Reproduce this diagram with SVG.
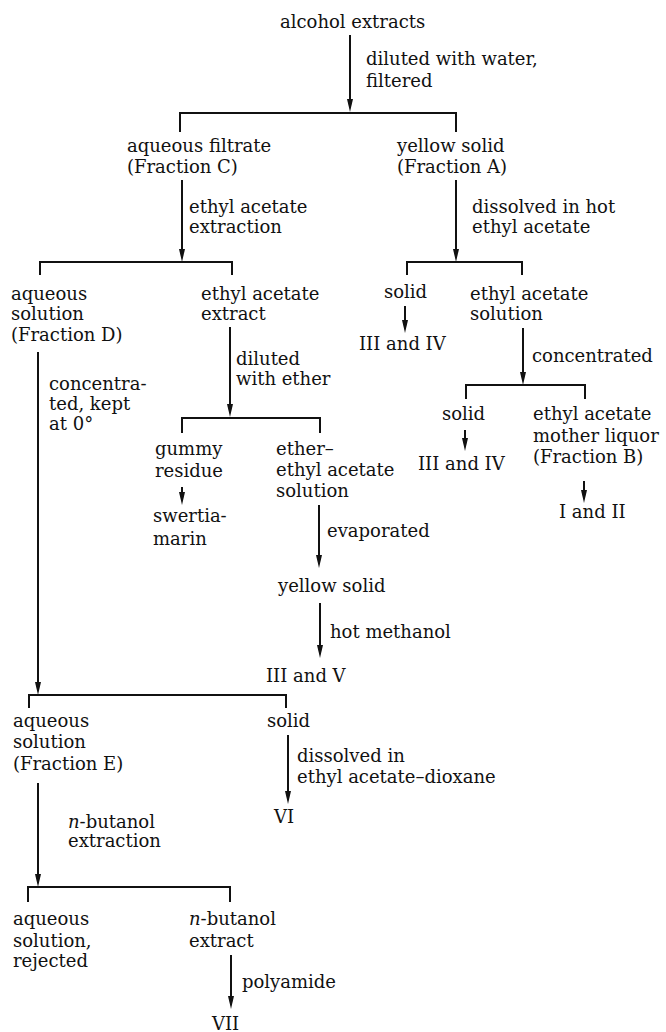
<svg xmlns="http://www.w3.org/2000/svg" width="666" height="1032" viewBox="0 0 666 1032">
<defs>
<style>
text{font-family:"DejaVu Serif","Liberation Serif",serif;font-size:18px;fill:#111}
.arr{stroke:#111;stroke-width:2;fill:none;marker-end:url(#ah)}
.bar{stroke:#111;stroke-width:2;fill:none}
</style>
<marker id="ah" viewBox="0 0 13 6" refX="6" refY="3" markerWidth="13" markerHeight="6" markerUnits="userSpaceOnUse" orient="auto">
<path d="M0,0 L13,3 L0,6 Z" fill="#111"/>
</marker>
</defs>
<rect width="666" height="1032" fill="#fff"/>
<g id="connectors">
<line class="arr" x1="350" y1="35" x2="350" y2="105"/>
<line class="arr" x1="182" y1="180" x2="182" y2="255"/>
<line class="arr" x1="456" y1="180" x2="456" y2="255"/>
<line class="arr" x1="405" y1="306" x2="405" y2="326"/>
<line class="arr" x1="523" y1="328" x2="523" y2="378"/>
<line class="arr" x1="465" y1="430" x2="465" y2="444"/>
<line class="arr" x1="584" y1="481" x2="584" y2="496"/>
<line class="arr" x1="230" y1="327" x2="230" y2="410"/>
<line class="arr" x1="182" y1="487" x2="182" y2="498"/>
<line class="arr" x1="38" y1="352" x2="38" y2="688"/>
<line class="arr" x1="319" y1="505" x2="319" y2="561"/>
<line class="arr" x1="320" y1="603" x2="320" y2="651"/>
<line class="arr" x1="288" y1="735" x2="288" y2="797"/>
<line class="arr" x1="38" y1="783" x2="38" y2="880"/>
<line class="arr" x1="231" y1="955" x2="231" y2="1002"/>
<path class="bar" d="M180,132 V113 H456 V132"/>
<path class="bar" d="M40,275 V262 H232 V275"/>
<path class="bar" d="M407,275 V262 H522 V275"/>
<path class="bar" d="M466,399 V385 H585 V399"/>
<path class="bar" d="M182,433 V418 H320 V433"/>
<path class="bar" d="M29,708 V695 H286 V708"/>
<path class="bar" d="M28,902 V887 H230 V902"/>
</g>
<g id="edge-labels">
<text x="366" y="65">diluted with water,</text>
<text x="366" y="87">filtered</text>
<text x="189" y="213">ethyl acetate</text>
<text x="189" y="233">extraction</text>
<text x="472" y="213">dissolved in hot</text>
<text x="472" y="233">ethyl acetate</text>
<text x="532" y="362">concentrated</text>
<text x="236" y="365">diluted</text>
<text x="236" y="385">with ether</text>
<text x="49" y="390">concentra-</text>
<text x="49" y="410">ted, kept</text>
<text x="49" y="430">at 0°</text>
<text x="327" y="537">evaporated</text>
<text x="330" y="638">hot methanol</text>
<text x="297" y="762">dissolved in</text>
<text x="297" y="783">ethyl acetate–dioxane</text>
<text x="68" y="828"><tspan font-style="italic">n</tspan>-butanol</text>
<text x="68" y="847">extraction</text>
<text x="242" y="988">polyamide</text>
</g>
<g id="n-alcohol"><text x="280" y="28">alcohol extracts</text></g>
<g id="n-fracC"><text x="127" y="152">aqueous filtrate</text><text x="127" y="173">(Fraction C)</text></g>
<g id="n-fracA"><text x="397" y="152">yellow solid</text><text x="397" y="173">(Fraction A)</text></g>
<g id="n-fracD"><text x="11" y="300">aqueous</text><text x="11" y="320">solution</text><text x="11" y="341">(Fraction D)</text></g>
<g id="n-eaextract"><text x="201" y="300">ethyl acetate</text><text x="201" y="320">extract</text></g>
<g id="n-solid1"><text x="384" y="298">solid</text></g>
<g id="n-III-IV-1"><text x="359" y="350">III and IV</text></g>
<g id="n-easolution"><text x="470" y="300">ethyl acetate</text><text x="470" y="320">solution</text></g>
<g id="n-solid2"><text x="442" y="420">solid</text></g>
<g id="n-III-IV-2"><text x="418" y="470">III and IV</text></g>
<g id="n-fracB"><text x="533" y="420">ethyl acetate</text><text x="533" y="442">mother liquor</text><text x="533" y="463">(Fraction B)</text></g>
<g id="n-I-II"><text x="559" y="518">I and II</text></g>
<g id="n-gummy"><text x="155" y="455">gummy</text><text x="155" y="477">residue</text></g>
<g id="n-swertiamarin"><text x="153" y="522">swertia-</text><text x="153" y="545">marin</text></g>
<g id="n-ether-ea"><text x="276" y="455">ether–</text><text x="276" y="476">ethyl acetate</text><text x="276" y="497">solution</text></g>
<g id="n-yellow2"><text x="278" y="592">yellow solid</text></g>
<g id="n-III-V"><text x="266" y="682">III and V</text></g>
<g id="n-fracE"><text x="13" y="727">aqueous</text><text x="13" y="748">solution</text><text x="13" y="770">(Fraction E)</text></g>
<g id="n-solid3"><text x="267" y="727">solid</text></g>
<g id="n-VI"><text x="274" y="823">VI</text></g>
<g id="n-rejected"><text x="13" y="925">aqueous</text><text x="13" y="947">solution,</text><text x="13" y="967">rejected</text></g>
<g id="n-butanol"><text x="189" y="925"><tspan font-style="italic">n</tspan>-butanol</text><text x="189" y="947">extract</text></g>
<g id="n-VII"><text x="212" y="1030">VII</text></g>
</svg>
